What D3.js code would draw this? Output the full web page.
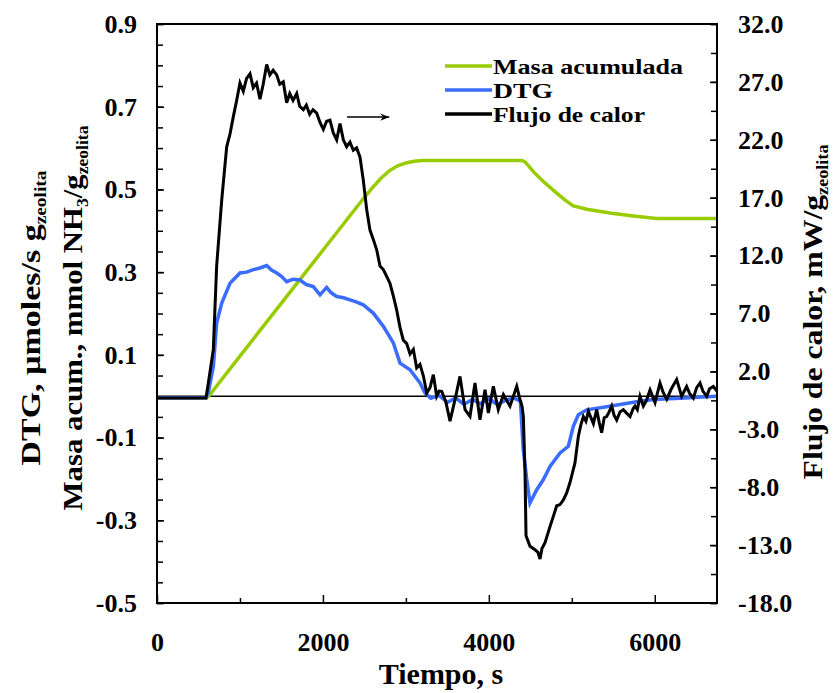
<!DOCTYPE html>
<html>
<head>
<meta charset="utf-8">
<script src="https://cdn.jsdelivr.net/npm/d3@7"></script>
<style>
  body { margin: 0; background: #fff; }
  svg text { font-family: "Liberation Serif", "Times New Roman", serif; font-weight: bold; fill: #000; }
</style>
</head>
<body>
<svg id="chart" width="834" height="693"></svg>
<script>
// Masa acumulada (left axis, mmol NH3/g) as [time s, value]
const masaData = [[0,-0.004],[600,-0.004],[640,0.004],[700,0.02],[1000,0.097],[1500,0.225],[2000,0.353],[2500,0.481],
  [2600,0.505],[2700,0.527],[2800,0.545],[2900,0.557],[3000,0.564],[3100,0.568],[3200,0.57],[4400,0.57],[4440,0.566],
  [4536,0.543],[4657,0.519],[4818,0.491],[4920,0.474],[5018,0.46],[5180,0.452],[5460,0.443],[5741,0.436],[6023,0.43],[6750,0.43]];

// DTG (left axis, µmoles/s g)
const dtgData = [[0,-0.004],[590,-0.004],[620,0.01],[679,0.072],[719,0.177],[780,0.225],[880,0.273],[1000,0.298],[1080,0.3],
  [1161,0.306],[1240,0.31],[1322,0.316],[1380,0.305],[1443,0.298],[1500,0.29],[1563,0.277],[1640,0.283],[1724,0.281],
  [1800,0.27],[1884,0.265],[1965,0.245],[2045,0.263],[2100,0.25],[2166,0.241],[2250,0.238],[2326,0.233],[2400,0.228],
  [2487,0.221],[2607,0.201],[2728,0.169],[2849,0.129],[2929,0.08],[3050,0.064],[3170,0.032],[3230,0.008],[3300,-0.005],
  [3400,0.002],[3500,-0.015],[3600,-0.004],[3700,-0.02],[3800,-0.008],[3900,-0.018],[4000,-0.006],[4100,-0.02],
  [4200,-0.01],[4300,-0.004],[4380,-0.012],[4415,-0.129],[4456,-0.2],[4496,-0.258],[4577,-0.226],[4656,-0.202],
  [4737,-0.17],[4858,-0.137],[4958,-0.121],[5018,-0.073],[5079,-0.045],[5180,-0.033],[5400,-0.026],[5581,-0.02],
  [5800,-0.013],[5983,-0.008],[6300,-0.005],[6750,0]];

// Flujo de calor (right axis, mW/g)
const flujoData = [[0,-0.3],[590,-0.3],[619,1.0],[679,3.9],[719,11.1],[780,16.8],[840,21.4],[880,22.5],[920,24.0],
  [960,25.4],[1000,26.9],[1040,26.2],[1080,27.3],[1121,27.7],[1160,26.5],[1200,26.9],[1241,25.5],[1280,26.8],[1322,28.5],
  [1360,27.6],[1400,28.0],[1443,27.6],[1480,26.8],[1522,27.0],[1563,25.2],[1600,26.0],[1640,25.4],[1684,26.0],[1720,24.9],
  [1764,24.6],[1800,25.0],[1840,24.2],[1880,24.6],[1925,24.3],[1965,23.5],[2005,22.9],[2045,23.6],[2085,23.7],[2125,22.6],
  [2166,22.0],[2206,23.4],[2246,22.0],[2286,21.4],[2326,21.8],[2366,21.1],[2406,21.3],[2447,20.5],[2487,18.5],[2527,16.0],
  [2567,14.2],[2607,13.4],[2648,12.5],[2688,11.1],[2728,10.8],[2768,10.2],[2808,9.6],[2849,8.5],[2889,7.3],[2929,5.8],
  [2969,4.7],[3010,4.4],[3050,3.5],[3090,3.9],[3130,2.3],[3170,2.6],[3211,1.6],[3251,0.14],[3291,0.6],[3331,1.72],
  [3371,-0.15],[3400,0.3],[3432,0.28],[3480,-0.6],[3532,-2.3],[3592,-0.44],[3652,1.57],[3713,-1.3],[3773,-1.88],
  [3833,1.0],[3893,-2.17],[3954,0.42],[3994,-1.59],[4054,0.71],[4114,-1.3],[4175,0],[4255,-1.0],[4336,0.71],[4376,-0.44],
  [4400,-1.0],[4416,-1.9],[4436,-6.8],[4448,-12.2],[4496,-13.1],[4556,-13.4],[4590,-13.6],[4617,-14.2],[4640,-13.3],
  [4677,-12.8],[4737,-11.4],[4778,-10.5],[4818,-9.6],[4858,-9.5],[4898,-9.1],[4938,-8.5],[4978,-7.6],[5038,-5.9],
  [5079,-3.6],[5110,-2.6],[5139,-1.9],[5170,-2.3],[5200,-1.45],[5260,-2.5],[5300,-1.3],[5330,-2.4],[5360,-3.3],
  [5390,-2.0],[5420,-1.9],[5450,-1.5],[5481,-1.0],[5510,-1.8],[5541,-2.2],[5581,-1.5],[5621,-1.3],[5660,-1.6],
  [5702,-1.9],[5740,-1.2],[5762,-1.0],[5790,-1.3],[5822,-0.15],[5862,-1.0],[5900,-0.5],[5943,0.4],[6003,-0.7],
  [6063,1.0],[6100,0.2],[6144,-0.4],[6200,0.5],[6264,1.3],[6324,-0.15],[6384,0.7],[6420,0.1],[6465,-0.3],[6505,0.6],
  [6545,1.0],[6580,0.3],[6626,-0.15],[6660,0.5],[6706,0.7],[6750,0.3]];

// tick values
const xTicks = [0, 2000, 4000, 6000];
const xMinor = [1000, 3000, 5000];
const leftTicks = [-0.5, -0.3, -0.1, 0.1, 0.3, 0.5, 0.7, 0.9];
const leftMinor = d3.range(-0.5, 0.9001, 0.05);
const rightTicks = [-18, -13, -8, -3, 2, 7, 12, 17, 22, 27, 32];
const rightMinor = d3.range(-18, 32.01, 2.5);

const legendItems = [
  { name: "Masa acumulada", color: "#99cc00", len: 190 },
  { name: "DTG", color: "#3a6cff", len: 60 },
  { name: "Flujo de calor", color: "#000000", len: 152 }
];

const margin = { top: 24, right: 117, bottom: 90, left: 157 };
const width = 834 - margin.left - margin.right;
const height = 693 - margin.top - margin.bottom;

const svg = d3.select("#chart");
const g = svg.append("g").attr("transform", `translate(${margin.left},${margin.top})`);

const x = d3.scaleLinear().domain([0, 6750]).range([0, width]);
const yL = d3.scaleLinear().domain([-0.5, 0.9]).range([height, 0]);
const yR = d3.scaleLinear().domain([-18, 32]).range([height, 0]);

// plain hyphen for negatives, like the original
const fmt1 = d => d3.format(".1f")(d).replace("−", "-");

function styleAxis(sel) {
  sel.select(".domain").remove();
  sel.selectAll("line").attr("stroke", "#000").attr("stroke-width", 1.5);
  sel.selectAll("text").attr("font-size", 26).attr("fill", "#000");
}

// minor ticks
g.append("g").attr("transform", `translate(0,${height})`)
  .call(d3.axisBottom(x).tickValues(xMinor).tickSize(-5).tickFormat(""))
  .call(styleAxis);
g.append("g")
  .call(d3.axisLeft(yL).tickValues(leftMinor).tickSize(-6).tickFormat(""))
  .call(styleAxis);
g.append("g").attr("transform", `translate(${width},0)`)
  .call(d3.axisRight(yR).tickValues(rightMinor).tickSize(-6).tickFormat(""))
  .call(styleAxis);

// major ticks with labels
g.append("g").attr("transform", `translate(0,${height})`)
  .call(d3.axisBottom(x).tickValues(xTicks).tickSize(-8).tickPadding(30).tickFormat(d3.format("d")))
  .call(styleAxis);
g.append("g")
  .call(d3.axisLeft(yL).tickValues(leftTicks).tickSize(-7).tickPadding(20).tickFormat(fmt1))
  .call(styleAxis);
g.append("g").attr("transform", `translate(${width},0)`)
  .call(d3.axisRight(yR).tickValues(rightTicks).tickSize(-7).tickPadding(21).tickFormat(fmt1))
  .call(styleAxis);

// zero line
g.append("line")
  .attr("x1", 0).attr("x2", width)
  .attr("y1", yL(0)).attr("y2", yL(0))
  .attr("stroke", "#000").attr("stroke-width", 1.5);

const lineL = d3.line().x(d => x(d[0])).y(d => yL(d[1]));
const lineR = d3.line().x(d => x(d[0])).y(d => yR(d[1]));

g.append("path").datum(masaData).attr("d", lineL)
  .attr("fill", "none").attr("stroke", legendItems[0].color).attr("stroke-width", 3.5);
g.append("path").datum(dtgData).attr("d", lineL)
  .attr("fill", "none").attr("stroke", legendItems[1].color).attr("stroke-width", 3.5);
g.append("path").datum(flujoData).attr("d", lineR)
  .attr("fill", "none").attr("stroke", legendItems[2].color).attr("stroke-width", 3);

// frame
g.append("rect").attr("width", width).attr("height", height)
  .attr("fill", "none").attr("stroke", "#000").attr("stroke-width", 2);

// arrow pointing to the right axis
svg.append("defs").append("marker")
  .attr("id", "arrow").attr("viewBox", "0 0 10 10")
  .attr("refX", 10).attr("refY", 5)
  .attr("markerWidth", 9).attr("markerHeight", 9)
  .attr("markerUnits", "userSpaceOnUse")
  .attr("orient", "auto")
  .append("path").attr("d", "M0,1 L10,5 L0,9 L3,5 Z").attr("fill", "#000");
g.append("line")
  .attr("x1", x(2290)).attr("x2", x(2800))
  .attr("y1", yL(0.675)).attr("y2", yL(0.675))
  .attr("stroke", "#000").attr("stroke-width", 1.5)
  .attr("marker-end", "url(#arrow)");

// legend
const legend = svg.append("g").attr("transform", "translate(445,66)");
legendItems.forEach((d, i) => {
  const row = legend.append("g").attr("transform", `translate(0,${i * 24})`);
  row.append("line").attr("x1", 0).attr("x2", 47).attr("y1", 0).attr("y2", 0)
    .attr("stroke", d.color).attr("stroke-width", 3.5);
  row.append("text").attr("x", 48).attr("y", 8).attr("font-size", 21)
    .attr("textLength", d.len).attr("lengthAdjust", "spacingAndGlyphs")
    .text(d.name);
});

// axis titles
svg.append("text")
  .attr("x", 441).attr("y", 684)
  .attr("text-anchor", "middle").attr("font-size", 30)
  .text("Tiempo, s");

const t1 = svg.append("text")
  .attr("transform", "translate(40,318) rotate(-90)")
  .attr("text-anchor", "middle").attr("font-size", 28)
  .attr("textLength", 295).attr("lengthAdjust", "spacingAndGlyphs");
t1.append("tspan").text("DTG, µmoles/s g");
t1.append("tspan").attr("font-size", 16).attr("dy", 6).text("zeolita");

const t2 = svg.append("text")
  .attr("transform", "translate(82,318) rotate(-90)")
  .attr("text-anchor", "middle").attr("font-size", 28)
  .attr("textLength", 385).attr("lengthAdjust", "spacingAndGlyphs");
t2.append("tspan").text("Masa acum., mmol NH");
t2.append("tspan").attr("font-size", 16).attr("dy", 6).text("3");
t2.append("tspan").attr("dy", -6).text("/g");
t2.append("tspan").attr("font-size", 16).attr("dy", 6).text("zeolita");

const t3 = svg.append("text")
  .attr("transform", "translate(822,312) rotate(-90)")
  .attr("text-anchor", "middle").attr("font-size", 28)
  .attr("textLength", 335).attr("lengthAdjust", "spacingAndGlyphs");
t3.append("tspan").text("Flujo de calor, mW/g");
t3.append("tspan").attr("font-size", 16).attr("dy", 6).text("zeolita");
</script>
</body>
</html>
